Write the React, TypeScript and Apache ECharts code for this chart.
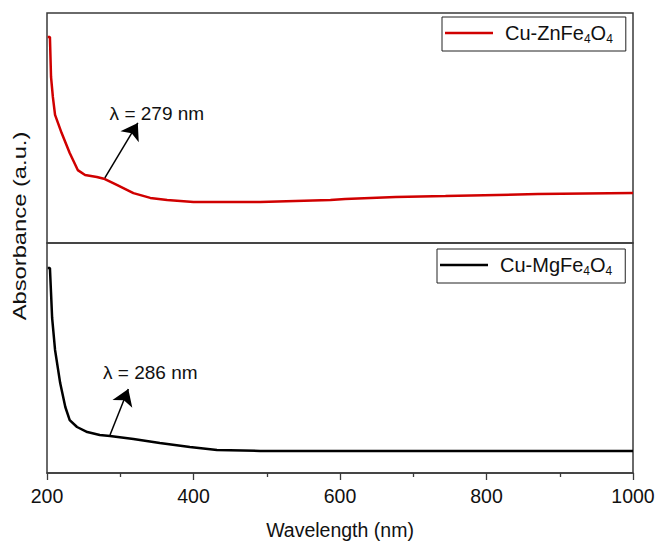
import React, { useEffect, useRef } from "react";
import * as echarts from "echarts";

const FONT = "'Liberation Sans', Arial, Helvetica, sans-serif";

// Cu-ZnFe4O4 (top panel)
const znWavelength = [201, 204, 205.5, 208, 211, 220, 231, 242, 252, 268, 279, 296, 318, 341, 364, 400, 491, 587, 607, 676, 744, 870, 1000];
const znAbsorbance = [0.896, 0.896, 0.722, 0.635, 0.557, 0.478, 0.391, 0.317, 0.296, 0.287, 0.278, 0.252, 0.217, 0.196, 0.187, 0.178, 0.178, 0.187, 0.191, 0.2, 0.204, 0.213, 0.217];

// Cu-MgFe4O4 (bottom panel)
const mgWavelength = [201, 204, 205.5, 207, 211, 218, 225, 231, 241, 255, 272, 286, 318, 354, 395, 432, 491, 587, 1000];
const mgAbsorbance = [0.891, 0.891, 0.783, 0.674, 0.535, 0.391, 0.287, 0.23, 0.2, 0.178, 0.165, 0.161, 0.148, 0.13, 0.113, 0.1, 0.096, 0.096, 0.096];

const seriesNames = ["Cu-ZnFe4O4", "Cu-MgFe4O4"];
const legendRich = ["{n|Cu-ZnFe}{s|4}{n|O}{s|4}", "{n|Cu-MgFe}{s|4}{n|O}{s|4}"];

const znPeak = { wl: 279, abs: 0.283, tipWl: 324, tipAbs: 0.522, textWl: 350, textAbs: 0.561, text: "λ = 279 nm" };
const mgPeak = { wl: 286, abs: 0.165, tipWl: 311, tipAbs: 0.365, textWl: 341, textAbs: 0.439, text: "λ = 286 nm" };

const xTicks = { min: 200, max: 1000, interval: 200 };

export default function App() {
  const ref = useRef<HTMLDivElement>(null);
  useEffect(() => {
    if (!ref.current) return;
    const chart = echarts.init(ref.current, null, { renderer: "svg" });

    const pair = (xs: number[], ys: number[]) => xs.map((x, i) => [x, ys[i]]);

    const annotation = (p: typeof znPeak) => ({
      markLine: {
        silent: true,
        animation: false,
        symbol: ["none", "arrow"],
        symbolSize: 16,
        label: { show: false },
        lineStyle: { color: "#000", width: 1.5, type: "solid" },
        emphasis: { disabled: true },
        data: [[{ coord: [p.wl, p.abs] }, { coord: [p.tipWl, p.tipAbs] }]],
      },
      markPoint: {
        silent: true,
        animation: false,
        symbol: "circle",
        symbolSize: 0,
        data: [
          {
            coord: [p.textWl, p.textAbs],
            label: {
              show: true,
              position: "inside",
              formatter: p.text,
              color: "#111",
              fontSize: 19,
              fontFamily: FONT,
            },
          },
        ],
      },
    });

    const legendBase = (i: number, left: number, top: number, color: string) => ({
      data: [{ name: seriesNames[i], icon: "rect", itemStyle: { color } }],
      left,
      top,
      orient: "horizontal",
      borderColor: "#222",
      borderWidth: 1,
      padding: [6, 13, 6, 3],
      itemWidth: 48,
      itemHeight: 2.5,
      selectedMode: false,
      formatter: () => legendRich[i],
      textStyle: {
        padding: [0, 0, 0, 7],
        rich: {
          n: { fontSize: 20, fontFamily: FONT, color: "#111", lineHeight: 24 },
          s: { fontSize: 12, fontFamily: FONT, color: "#111", lineHeight: 12, verticalAlign: "bottom" },
        },
      },
    });

    const xAxisBase = {
      type: "value",
      min: xTicks.min,
      max: xTicks.max,
      interval: xTicks.interval,
      splitLine: { show: false },
    };

    chart.setOption({
      animation: false,
      backgroundColor: "#fff",
      grid: [
        { left: 47, top: 13, width: 586, height: 230, show: true, borderColor: "#3a3a3a", borderWidth: 1.5, containLabel: false, outerBoundsMode: "none" },
        { left: 47, top: 243, width: 586, height: 230, show: true, borderColor: "#3a3a3a", borderWidth: 1.5, containLabel: false, outerBoundsMode: "none" },
      ],
      xAxis: [
        { ...xAxisBase, gridIndex: 0, show: false },
        {
          ...xAxisBase,
          gridIndex: 1,
          axisLine: { show: true, lineStyle: { color: "#3a3a3a", width: 1.5 } },
          axisTick: { show: true, length: 7, inside: false, lineStyle: { color: "#3a3a3a", width: 1.3 } },
          minorTick: { show: true, splitNumber: 2, length: 4, lineStyle: { color: "#3a3a3a", width: 1.3 } },
          axisLabel: { color: "#111", fontSize: 19.5, fontFamily: FONT, margin: 13, formatter: (v: number) => String(v) },
          name: "Wavelength (nm)",
          nameLocation: "middle",
          nameGap: 47,
          nameTextStyle: { color: "#111", fontSize: 19.5, fontFamily: FONT },
        },
      ],
      yAxis: [
        { type: "value", gridIndex: 0, min: 0, max: 1, show: false },
        { type: "value", gridIndex: 1, min: 0, max: 1, show: false },
      ],
      legend: [legendBase(0, 442, 17, "#d00000"), legendBase(1, 437, 249, "#000")],
      series: [
        {
          name: seriesNames[0],
          type: "line",
          xAxisIndex: 0,
          yAxisIndex: 0,
          data: pair(znWavelength, znAbsorbance),
          symbol: "none",
          lineStyle: { color: "#d00000", width: 2.5 },
          itemStyle: { color: "#d00000" },
          ...annotation(znPeak),
        },
        {
          name: seriesNames[1],
          type: "line",
          xAxisIndex: 1,
          yAxisIndex: 1,
          data: pair(mgWavelength, mgAbsorbance),
          symbol: "none",
          lineStyle: { color: "#000", width: 2.5 },
          itemStyle: { color: "#000" },
          ...annotation(mgPeak),
        },
      ],
      graphic: [
        {
          type: "text",
          x: 20,
          y: 226,
          rotation: Math.PI / 2,
          scaleX: 1.25,
          style: {
            text: "Absorbance (a.u.)",
            fill: "#111",
            font: `19px ${FONT}`,
            textAlign: "center",
            textVerticalAlign: "middle",
          },
        },
      ],
    });
    return () => chart.dispose();
  }, []);
  return (
    <div
      ref={ref}
      style={{ position: "fixed", left: 0, top: 0, width: 658, height: 542, background: "#fff" }}
    />
  );
}
